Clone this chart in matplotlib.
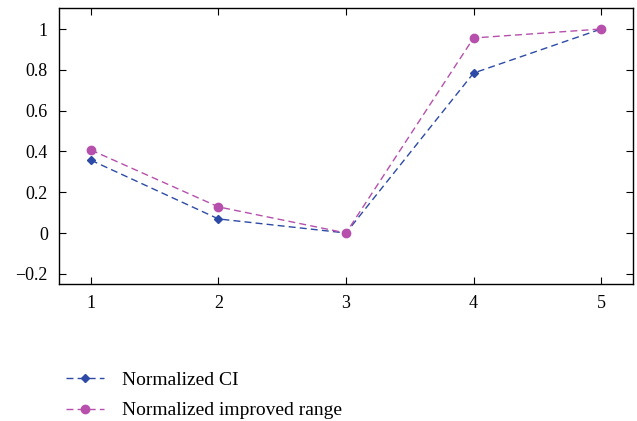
import matplotlib
matplotlib.use("Agg")
import matplotlib.pyplot as plt

x = [1, 2, 3, 4, 5]
ci = [0.357, 0.069, 0.0, 0.784, 1.0]
improved = [0.407, 0.128, 0.0, 0.956, 1.0]
xticks = [1, 2, 3, 4, 5]
yticks = [-0.2, 0, 0.2, 0.4, 0.6, 0.8, 1]
ytick_labels = ["\u22120.2", "0", "0.2", "0.4", "0.6", "0.8", "1"]

plt.rcParams['font.family'] = ['Liberation Serif', 'DejaVu Serif']

fig = plt.figure(figsize=(6.37, 4.21), dpi=100)
ax = fig.add_axes([59/637, 1 - 284/421, (633-59)/637, (284-8)/421])

blue = '#2D4AA6'
mag = '#B650AC'
l1, = ax.plot(x, ci, linestyle=(0, (5, 3)), color=blue, lw=1.0, marker='D', ms=4, label='Normalized CI')
l2, = ax.plot(x, improved, linestyle=(0, (5, 3)), color=mag, lw=1.0, marker='o', ms=6, label='Normalized improved range')

ax.set_xlim(0.75, 5.25)
ax.set_ylim(-0.25, 1.103)
ax.set_xticks(xticks)
ax.set_yticks(yticks)
ax.set_yticklabels(ytick_labels)
ax.tick_params(direction='in', top=True, right=True, labelsize=13, length=5, pad=8)
for s in ax.spines.values():
    s.set_linewidth(1.0)

fig.legend(handles=[l1, l2], loc='upper left', bbox_to_anchor=(48/637, 1 - 354/421),
           frameon=False, fontsize=14, handlelength=2.0, labelspacing=0.65, handletextpad=0.9)

fig.savefig('out.png', dpi=100)
